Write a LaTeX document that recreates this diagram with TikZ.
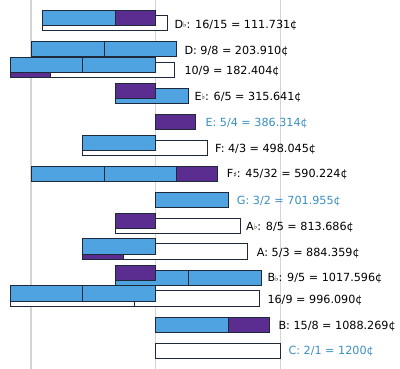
\documentclass[tikz,border=0pt]{standalone}
\usepackage{fontspec}
\setmainfont{DejaVu Sans}
\definecolor{fifthc}{HTML}{4FA3E0}
\definecolor{thirdc}{HTML}{5B2D91}
\definecolor{edgec}{HTML}{1E2A3A}
\definecolor{labblue}{HTML}{3A8FC4}
\definecolor{gridc}{HTML}{D4D4D4}
\newcommand{\fl}{{\fontsize{7.5}{7.5}\selectfont\raisebox{0.3pt}{♭}}}
\newcommand{\shp}{{\fontsize{7.5}{7.5}\selectfont\raisebox{0.3pt}{♯}}}
\tikzset{
  fifthbar/.style={fill=fifthc,draw=edgec,line width=0.9pt},
  thirdbar/.style={fill=thirdc,draw=edgec,line width=0.9pt},
  octbar/.style={fill=white,draw=edgec,line width=0.9pt},
  lab/.style={anchor=base west,inner sep=0pt,font=\fontsize{11.2}{13}\selectfont,text=black},
  labb/.style={lab,text=labblue},
  grid/.style={draw=gridc,line width=1.3pt}
}
\newcommand{\bx}[4]{\path[#1] (#2,#4) rectangle (#3,#4+15.5);}
\begin{document}
\begin{tikzpicture}[x=1pt,y=-1pt]
\useasboundingbox (0,0) rectangle (400,369);
\fill[white] (0,0) rectangle (400,369);
% grid
\draw[grid] (31,0) -- (31,369);
\draw[grid] (155.5,0) -- (155.5,369);
\draw[grid] (280.3,0) -- (280.3,369);
% Db
\bx{octbar}{42.7}{167.3}{15}
\bx{fifthbar}{42.7}{115.3}{10}
\bx{thirdbar}{115.3}{155.5}{10}
% D
\bx{fifthbar}{31}{104}{41}
\bx{fifthbar}{104}{176.7}{41}
% 10/9
\bx{thirdbar}{10}{50.3}{62}
\bx{octbar}{50.3}{174.7}{62}
\bx{fifthbar}{10}{82.7}{57}
\bx{fifthbar}{82.7}{155.5}{57}
% Eb
\bx{fifthbar}{115.3}{188.7}{88}
\bx{thirdbar}{115.3}{155.5}{83}
% E
\bx{thirdbar}{155.5}{195.7}{114}
% F
\bx{octbar}{82.7}{207.7}{140}
\bx{fifthbar}{82.7}{155.5}{135}
% F#
\bx{fifthbar}{31}{104}{166}
\bx{fifthbar}{104}{176.7}{166}
\bx{thirdbar}{176.7}{217}{166}
% G
\bx{fifthbar}{155.5}{228.7}{192}
% Ab
\bx{octbar}{115.3}{240.3}{218}
\bx{thirdbar}{115.3}{155.5}{213}
% A
\bx{thirdbar}{82.7}{123.3}{243.5}
\bx{octbar}{123.3}{247.7}{243.5}
\bx{fifthbar}{82.7}{155.5}{238.5}
% Bb
\bx{fifthbar}{115.3}{188.7}{270}
\bx{fifthbar}{188.7}{261.7}{270}
\bx{thirdbar}{115.3}{155.5}{265}
% 16/9
\bx{octbar}{10}{134.7}{290.7}
\bx{octbar}{134.7}{259.3}{290.7}
\bx{fifthbar}{10}{82.7}{285.7}
\bx{fifthbar}{82.7}{155.5}{285.7}
% B
\bx{fifthbar}{155.5}{228.7}{317}
\bx{thirdbar}{228.7}{269}{317}
% C
\bx{octbar}{155.5}{280.3}{343}
% labels
\node[lab]  (tDb)  at (174.3,28.3)  {D\fl: 16/15 = 111.731¢};
\node[lab]  (tD)   at (184.3,54.3)  {D: 9/8 = 203.910¢};
\node[lab]  (tDx)  at (184.3,74.3)  {10/9 = 182.404¢};
\node[lab]  (tEb)  at (194.3,100.3) {E\fl: 6/5 = 315.641¢};
\node[labb] (tE)   at (205.3,126.3) {E: 5/4 = 386.314¢};
\node[lab]  (tF)   at (215,152.6)   {F: 4/3 = 498.045¢};
\node[lab]  (tFs)  at (226.7,177.6) {F\shp: 45/32 = 590.224¢};
\node[labb] (tG)   at (236.7,204.3) {G: 3/2 = 701.955¢};
\node[lab]  (tAb)  at (246,230.3)   {A\fl: 8/5 = 813.686¢};
\node[lab]  (tA)   at (256.7,256.6) {A: 5/3 = 884.359¢};
\node[lab]  (tBb)  at (267.3,282)   {B\fl: 9/5 = 1017.596¢};
\node[lab]  (tBx)  at (267.3,303.6) {16/9 = 996.090¢};
\node[lab]  (tB)   at (278.3,329.3) {B: 15/8 = 1088.269¢};
\node[labb] (tC)   at (288.3,355)   {C: 2/1 = 1200¢};
\end{tikzpicture}
\end{document}
